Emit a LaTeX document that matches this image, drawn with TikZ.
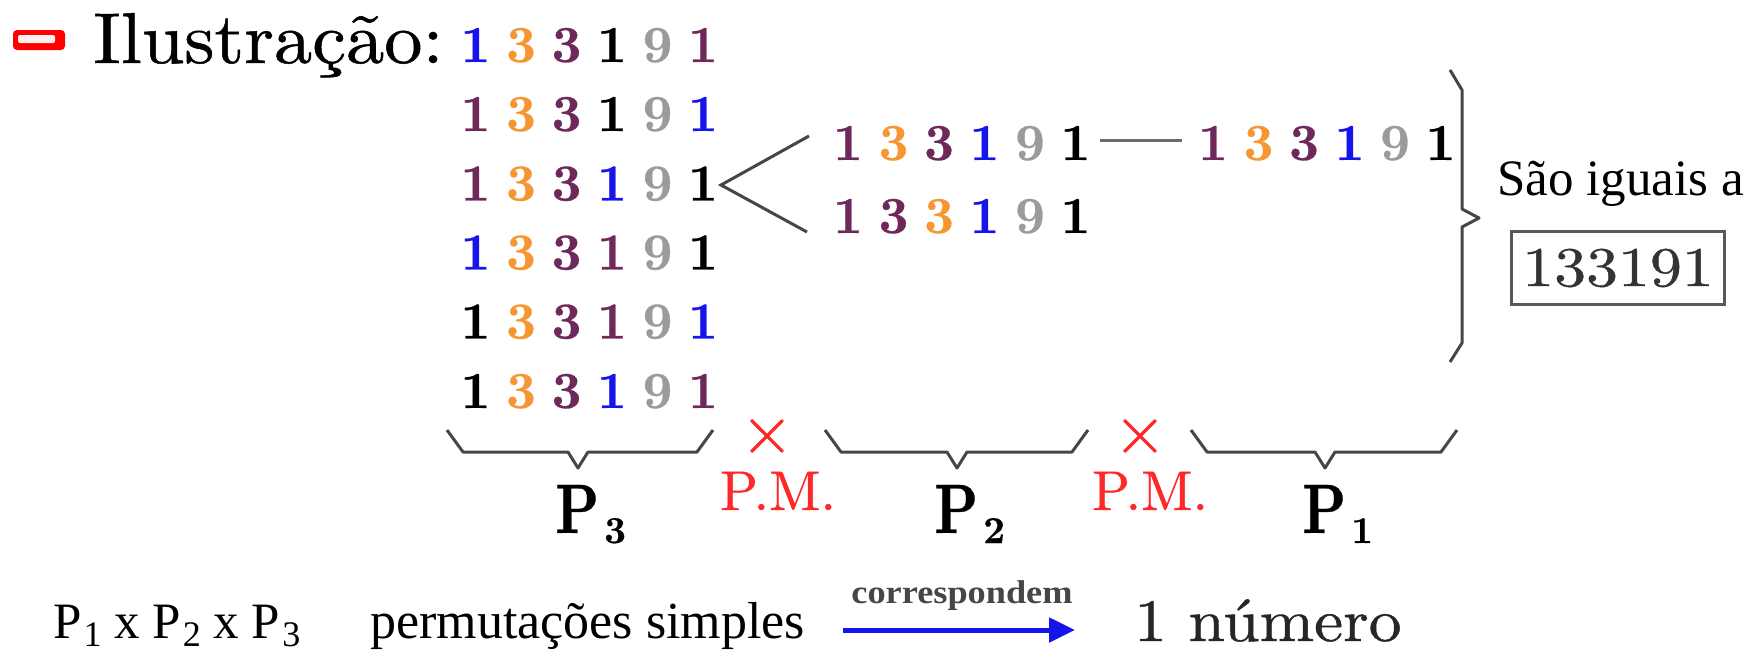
\documentclass[tikz,border=0pt]{standalone}
\usepackage{fontspec}
\newfontfamily\tnr{Liberation Serif}
\newfontfamily\lmheavy[FakeBold=0.7]{lmroman10-regular.otf}
\newfontfamily\lmblack[FakeBold=0.5]{lmroman10-bold.otf}
\usetikzlibrary{arrows.meta}

\definecolor{cb}{RGB}{20,20,235}
\definecolor{co}{RGB}{245,150,50}
\definecolor{cp}{RGB}{110,40,90}
\definecolor{cg}{RGB}{155,155,155}
\definecolor{ink}{RGB}{70,70,70}
\definecolor{pm}{RGB}{255,40,40}

\tikzset{
  dig/.style={anchor=base, inner sep=0pt, font=\lmblack\fontsize{52}{52}\selectfont},
  brc/.style={draw=ink, line width=3pt, line join=round},
  link/.style={draw=ink, line width=3pt},
  pmlab/.style={anchor=base, inner sep=0pt, text=pm, font=\lmheavy\fontsize{56}{56}\selectfont},
  times/.style={anchor=base, inner sep=0pt, text=pm, font=\lmheavy\fontsize{68}{68}\selectfont},
  plab/.style={anchor=base west, inner sep=0pt, font=\lmblack\fontsize{70}{70}\selectfont},
  serif/.style={anchor=base west, inner sep=0pt, font=\tnr\fontsize{51}{51}\selectfont},
}

% one row of six coloured digits: name, first centre x, baseline y, colour/digit list
\newcommand\digitrow[4]{%
  \foreach [count=\k from 0] \clr/\dgt in {#4}
    \node[dig, text=\clr] (#1-\k) at ({#2+45.5*\k}, #3) {\dgt};%
}
% horizontal brace opening upwards: left x, right x, tip x
\newcommand\lowbrace[3]{%
  \draw[brc] (#1,430) -- ({#1+16},452) -- ({#3-10},452) -- (#3,468)
             -- ({#3+10},452) -- ({#2-16},452) -- (#2,430);%
}
\newcommand\Psub[1]{\scalebox{0.8}[1]{P}\kern5pt\raisebox{-10pt}{\fontsize{38}{38}\selectfont #1}}
\newcommand\tsub[1]{\kern2pt\raisebox{-8pt}{\fontsize{36}{36}\selectfont #1}}

\begin{document}
\begin{tikzpicture}[x=1pt, y=-1pt]
\useasboundingbox (0,0) rectangle (1757,651);

% bullet
\fill[red, rounded corners=4pt] (13,30) rectangle (65,50);
\fill[red!6, rounded corners=2pt] (18,35) rectangle (55,43);

\node[anchor=base west, inner sep=0pt, font=\lmheavy\fontsize{72}{72}\selectfont] (title) at (93,63)
  {\scalebox{1.06}[1]{Ilustração:}};

% six arrangements of the first block
\digitrow{r1}{475.5}{62}{cb/1, co/3, cp/3, black/1, cg/9, cp/1}
\digitrow{r2}{475.5}{131}{cp/1, co/3, cp/3, black/1, cg/9, cb/1}
\digitrow{r3}{475.5}{200.5}{cp/1, co/3, cp/3, cb/1, cg/9, black/1}
\digitrow{r4}{475.5}{269.5}{cb/1, co/3, cp/3, cp/1, cg/9, black/1}
\digitrow{r5}{475.5}{338.5}{black/1, co/3, cp/3, cp/1, cg/9, cb/1}
\digitrow{r6}{475.5}{408}{black/1, co/3, cp/3, cb/1, cg/9, cp/1}

% second and third blocks
\digitrow{bu}{848}{160}{cp/1, co/3, cp/3, cb/1, cg/9, black/1}
\digitrow{bl}{848}{233}{cp/1, cp/3, co/3, cb/1, cg/9, black/1}
\digitrow{tr}{1213}{160}{cp/1, co/3, cp/3, cb/1, cg/9, black/1}

% fork and dash
\coordinate (fork) at (721,185);
\coordinate (forkU) at (809,136);
\coordinate (forkL) at (807,232);
\draw[link, line join=miter] (forkU) -- (fork) -- (forkL);
\coordinate (dashA) at (1100,140);
\coordinate (dashB) at (1182,140);
\draw[link, draw=ink!80] (dashA) -- (dashB);

% right brace
\draw[brc] (1450,70) -- (1462,90) -- (1462,209) -- (1479,218) -- (1462,227)
           -- (1462,343) -- (1450,362);

\node[serif] (iguais) at (1497,195) {São iguais a};
\node[draw=ink!90, line width=2.5pt, minimum width=213pt, minimum height=73pt,
      inner sep=0pt, text=black!80, font=\lmheavy\fontsize{56}{56}\selectfont] (num) at (1618,268)
  {\scalebox{1.14}[1]{133191}};

% lower braces
\lowbrace{447}{713}{578}
\lowbrace{825}{1088}{957}
\lowbrace{1191}{1457}{1325}

\node[times] (x1) at (767,453) {×};
\node[times] (x2) at (1140,453) {×};
\node[pmlab] (pm1) at (778,510) {P.M.};
\node[pmlab] (pm2) at (1150,510) {P.M.};

\node[plab] (p3) at (555,533) {\Psub{3}};
\node[plab] (p2) at (934,533) {\Psub{2}};
\node[plab] (p1) at (1302,533) {\Psub{1}};

% bottom line
\node[serif] (prod) at (53,638) {P\tsub{1} x P\tsub{2} x P\tsub{3}};
\node[serif, font=\tnr\fontsize{52}{52}\selectfont] (perm) at (370,638) {permutações simples};
\coordinate (arrS) at (843,630);
\coordinate (arrE) at (1075,630);
\draw[draw=cb, line width=5pt, -{Triangle[length=26pt, width=24pt]}] (arrS) -- (arrE);
\node[anchor=base, inner sep=0pt, text=ink, font=\tnr\bfseries\fontsize{33}{33}\selectfont]
  (corr) at (962,603) {\scalebox{1.1}[1]{correspondem}};
\node[anchor=base west, inner sep=0pt, text=black!85, font=\lmheavy\fontsize{60}{60}\selectfont]
  (um) at (1134,641) {\scalebox{1.09}[1]{1 número}};
\end{tikzpicture}
\end{document}
